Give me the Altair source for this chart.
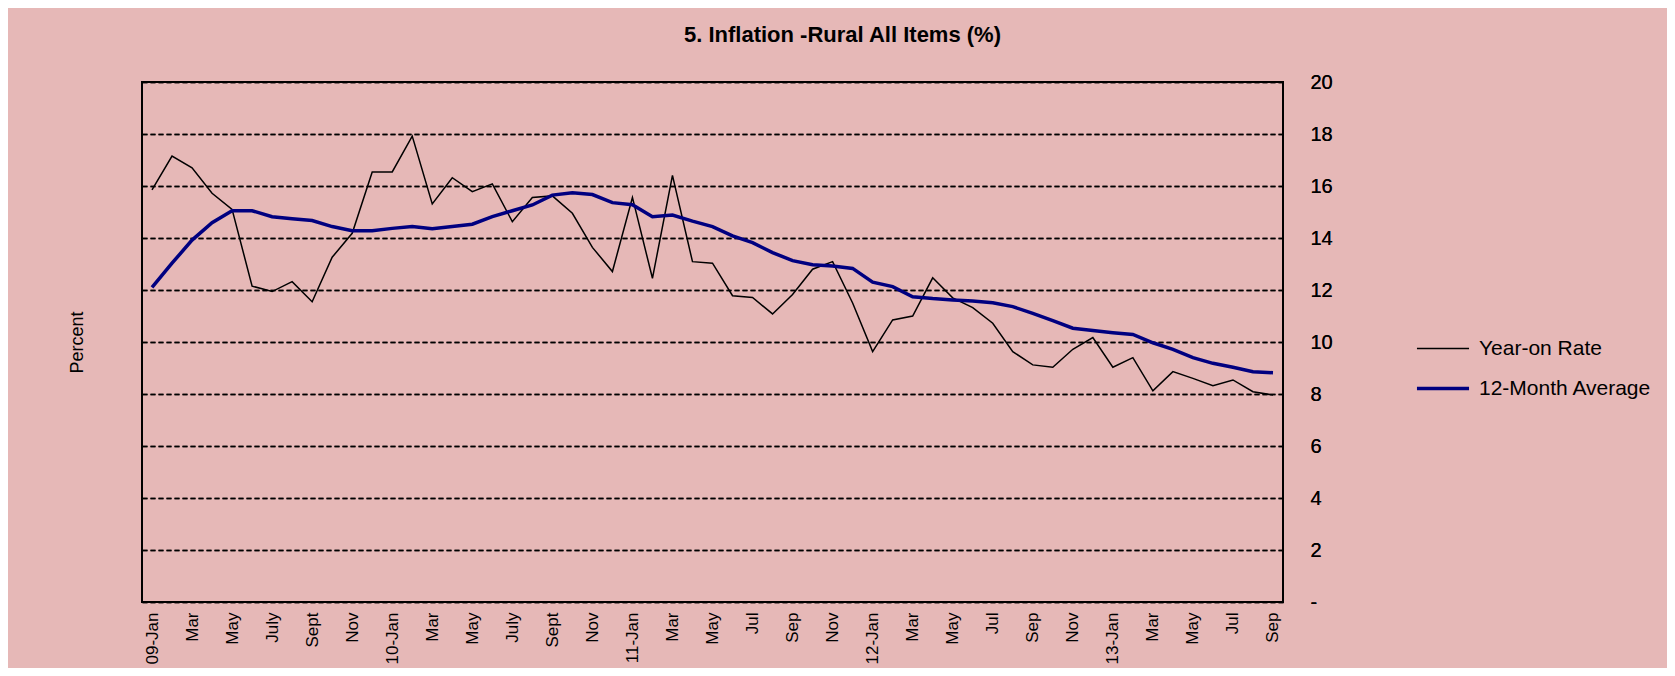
import json
import altair as alt
import pandas as pd

# ---- data (Jan 2009 .. Sep 2013, monthly) ----
yoy_rate = [15.85, 17.15, 16.7, 15.72, 15.1, 12.15, 11.94, 12.32, 11.55, 13.26,
            14.18, 16.54, 16.54, 17.92, 15.31, 16.32, 15.78, 16.08, 14.63, 15.56,
            15.62, 14.95, 13.64, 12.71, 15.56, 12.45, 16.41, 13.09, 13.03, 11.78,
            11.71, 11.08, 11.83, 12.8, 13.09, 11.5, 9.63, 10.85, 11.0, 12.47,
            11.7, 11.32, 10.72, 9.63, 9.12, 9.03, 9.72, 10.17, 9.03, 9.4,
            8.12, 8.86, 8.6, 8.32, 8.54, 8.09, 7.96]
avg_12m = [12.1, 13.03, 13.92, 14.59, 15.05, 15.05, 14.82, 14.74, 14.67, 14.44,
           14.28, 14.28, 14.37, 14.44, 14.36, 14.44, 14.53, 14.82, 15.05, 15.27,
           15.65, 15.74, 15.67, 15.36, 15.28, 14.82, 14.88, 14.65, 14.44, 14.08,
           13.82, 13.44, 13.13, 12.97, 12.92, 12.83, 12.3, 12.13, 11.74, 11.67,
           11.62, 11.58, 11.51, 11.36, 11.1, 10.82, 10.53, 10.44, 10.36, 10.29,
           9.97, 9.72, 9.4, 9.18, 9.03, 8.86, 8.82]
tick_labels = ["09-Jan", "Mar", "May", "July", "Sept", "Nov",
               "10-Jan", "Mar", "May", "July", "Sept", "Nov",
               "11-Jan", "Mar", "May", "Jul", "Sep", "Nov",
               "12-Jan", "Mar", "May", "Jul", "Sep", "Nov",
               "13-Jan", "Mar", "May", "Jul", "Sep"]
series_names = ["Year-on Rate", "12-Month Average"]
series_colors = ["#000000", "#000080"]
series_widths = [1.5, 3.5]
y_ticks = list(range(0, 21, 2))

rows = []
for i, v in enumerate(yoy_rate):
    rows.append({"idx": i, "value": v, "series": series_names[0]})
for i, v in enumerate(avg_12m):
    rows.append({"idx": i, "value": v, "series": series_names[1]})
df = pd.DataFrame(rows)

FONT = "Liberation Sans"
n = len(yoy_rate)

x_enc = alt.X(
    "idx:Q",
    scale=alt.Scale(domain=[-0.5, n - 0.5], nice=False, zero=False),
    axis=alt.Axis(
        values=list(range(0, n, 2)),
        labelExpr=json.dumps(tick_labels) + "[round(datum.value/2)]",
        labelAngle=-90, labelFontSize=17, labelColor="black", labelFont=FONT,
        labelPadding=10, ticks=False, domain=False, grid=False, title=None,
    ),
)
y_scale = alt.Scale(domain=[0, 20], nice=False, zero=True)
y_right = alt.Y(
    "value:Q", scale=y_scale,
    axis=alt.Axis(
        orient="right", values=y_ticks,
        labelExpr="datum.value == 0 ? '-' : datum.label",
        labelFontSize=20, labelColor="black", labelFont=FONT, labelAlign="left",
        labelPadding=27, ticks=False, domain=False,
        grid=True, gridColor="black", gridDash=[5, 3], gridWidth=1.5, gridOpacity=1,
        title=None,
    ),
)
y_left = alt.Y(
    "value:Q", scale=y_scale,
    axis=alt.Axis(
        orient="left", labels=False, ticks=False, domain=False, grid=False,
        title="Percent", titleFontSize=18, titleFontWeight="normal",
        titleFont=FONT, titleColor="black", titlePadding=56,
    ),
)

legend = alt.Legend(
    orient="none", legendX=1278.5, legendY=245, title=None,
    symbolType="M-1.27,0H1.27", symbolSize=1681, rowPadding=7, padding=0,
    labelFontSize=21, labelFont=FONT, labelColor="black", labelOffset=13.5,
    labelLimit=0, symbolOpacity=1,
)
color_enc = alt.Color(
    "series:N",
    scale=alt.Scale(domain=series_names, range=series_colors),
    legend=legend,
)
width_enc = alt.StrokeWidth(
    "series:N",
    scale=alt.Scale(domain=series_names, range=series_widths),
    legend=legend,
)

line_yoy = alt.Chart(df).transform_filter(
    alt.datum.series == series_names[0]
).mark_line().encode(x=x_enc, y=y_right, color=color_enc, strokeWidth=width_enc)

line_avg = alt.Chart(df).transform_filter(
    alt.datum.series == series_names[1]
).mark_line().encode(x=x_enc, y=y_right, color=color_enc, strokeWidth=width_enc)

percent_axis = alt.Chart(df).mark_point(opacity=0).encode(x=x_enc, y=y_left)

chart = (
    alt.layer(line_yoy, line_avg, percent_axis)
    .resolve_axis(y="independent")
    .properties(
        width=1141, height=520,
        autosize=alt.AutoSizeParams(type="none"),
        padding={"left": 134, "top": 74, "right": 384, "bottom": 66},
        background="#E6B8B7",
        title=alt.TitleParams(
            "5. Inflation -Rural All Items (%)", fontSize=22, fontWeight="bold",
            font=FONT, color="black", anchor="middle", dx=130, offset=25,
        ),
    )
    .configure_view(stroke="black", strokeWidth=2)
)

chart.save("out.html", embed_options={"renderer": "svg", "actions": False})
